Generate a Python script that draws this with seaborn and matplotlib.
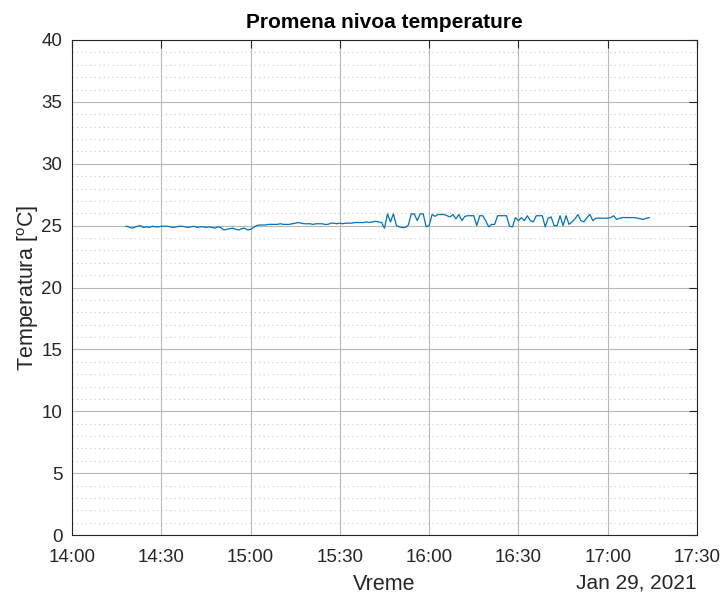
import matplotlib
matplotlib.use("Agg")
import matplotlib.pyplot as plt
import matplotlib.dates as mdates
from matplotlib.ticker import MultipleLocator
import numpy as np
import pandas as pd
import seaborn as sns

# ---- data ----
start_time = "2021-01-29 14:18"   # first sample
sample_minutes = 1                # one sample per minute
temperature = [
    # 14:18 - 15:01
    24.95, 24.9, 24.8, 24.85, 24.95, 25.0, 24.85, 24.9, 24.85, 24.95,
    24.9, 24.9, 24.95, 24.95, 24.95, 24.9, 24.85, 24.9, 24.95, 24.95,
    24.9, 24.85, 24.9, 24.95, 24.85, 24.9, 24.9, 24.85, 24.9, 24.85,
    24.8, 24.9, 24.85, 24.65, 24.7, 24.75, 24.8, 24.7, 24.65, 24.75,
    24.8, 24.65, 24.7, 24.85,
    # 15:02 - 15:42
    25.0, 25.05, 25.05, 25.05, 25.1, 25.1, 25.1, 25.1, 25.15, 25.1,
    25.1, 25.1, 25.15, 25.2, 25.25, 25.2, 25.15, 25.15, 25.15, 25.1,
    25.15, 25.15, 25.15, 25.1, 25.1, 25.2, 25.2, 25.15, 25.2, 25.15,
    25.2, 25.2, 25.2, 25.25, 25.25, 25.25, 25.25, 25.3, 25.25, 25.3,
    25.35,
    # 15:43 - 17:14
    25.3, 25.25, 24.8, 25.95, 25.3, 25.95, 25.0, 24.9, 24.85, 24.85,
    25.05, 25.95, 25.95, 25.4, 25.95, 25.95, 24.9, 25.0, 25.9, 25.75,
    25.9, 25.9, 25.9, 25.8, 25.7, 25.9, 25.55, 25.9, 25.4, 25.75,
    25.8, 25.8, 25.8, 25.0, 25.8, 25.8, 25.4, 24.9, 25.1, 25.1,
    25.8, 25.8, 25.8, 25.8, 24.95, 24.9, 25.65, 25.4, 25.65, 25.4,
    25.8, 25.4, 25.3, 25.8, 25.8, 25.8, 24.9, 25.6, 25.7, 25.0,
    25.0, 25.8, 25.0, 25.8, 25.1, 25.3, 25.55, 25.9, 25.4, 25.3,
    25.65, 25.9, 25.4, 25.6, 25.6, 25.6, 25.6, 25.6, 25.65, 25.8,
    25.5, 25.6, 25.65, 25.65, 25.65, 25.65, 25.65, 25.6, 25.55, 25.5,
    25.6, 25.65,
]
x_limits = ["2021-01-29 14:00", "2021-01-29 17:30"]
y_limits = [0, 40]
title = "Promena nivoa temperature"
x_label = "Vreme"
y_label = r"Temperatura [$^{\mathrm{o}}$C]"
date_note = "Jan 29, 2021"

times = pd.date_range(start_time, periods=len(temperature), freq=f"{sample_minutes}min")
df = pd.DataFrame({"Vreme": times, "Temperatura": temperature})

# ---- style ----
sns.set_style("white")
plt.rcParams["font.family"] = ["Liberation Sans", "DejaVu Sans"]
plt.rcParams["mathtext.fontset"] = "custom"
plt.rcParams["mathtext.rm"] = "Liberation Sans"
plt.rcParams["mathtext.it"] = "Liberation Sans:italic"

axis_color = "#262626"

fig = plt.figure(figsize=(7.28, 5.95), dpi=100)
ax = fig.add_axes([72 / 728, 60 / 595, 625 / 728, 495 / 595])

sns.lineplot(data=df, x="Vreme", y="Temperatura", ax=ax,
             color="#0072BD", linewidth=0.9)

ax.set_xlim(pd.Timestamp(x_limits[0]), pd.Timestamp(x_limits[1]))
ax.set_ylim(*y_limits)

ax.xaxis.set_major_locator(mdates.MinuteLocator(byminute=[0, 30]))
ax.xaxis.set_major_formatter(mdates.DateFormatter("%H:%M"))
ax.yaxis.set_major_locator(MultipleLocator(5))
ax.yaxis.set_minor_locator(MultipleLocator(1))

ax.grid(True, which="major", color="#b8b8b8", linewidth=0.8, linestyle="-")
ax.grid(True, which="minor", axis="y", color="#c4c4c4", linewidth=0.8,
        linestyle=(0, (1, 3)))
ax.set_axisbelow(True)

for s in ax.spines.values():
    s.set_color(axis_color)
    s.set_linewidth(0.8)

ax.tick_params(which="major", direction="in", length=6, width=0.8,
               color=axis_color, labelcolor=axis_color, labelsize=13.5,
               top=True, right=True)
ax.tick_params(axis="x", which="major", pad=10)
ax.tick_params(axis="y", which="major", pad=7)
ax.tick_params(which="minor", length=0)

ax.set_title(title, fontsize=15, fontweight="bold", color="black", pad=9)
ax.set_xlabel(x_label, fontsize=15.5, color=axis_color, labelpad=6)
ax.set_ylabel(y_label, fontsize=15.5, color=axis_color, labelpad=0)

ax.text(1.0, -0.097, date_note, transform=ax.transAxes, ha="right", va="center",
        fontsize=15, color=axis_color)

fig.savefig("out.png", dpi=100)
